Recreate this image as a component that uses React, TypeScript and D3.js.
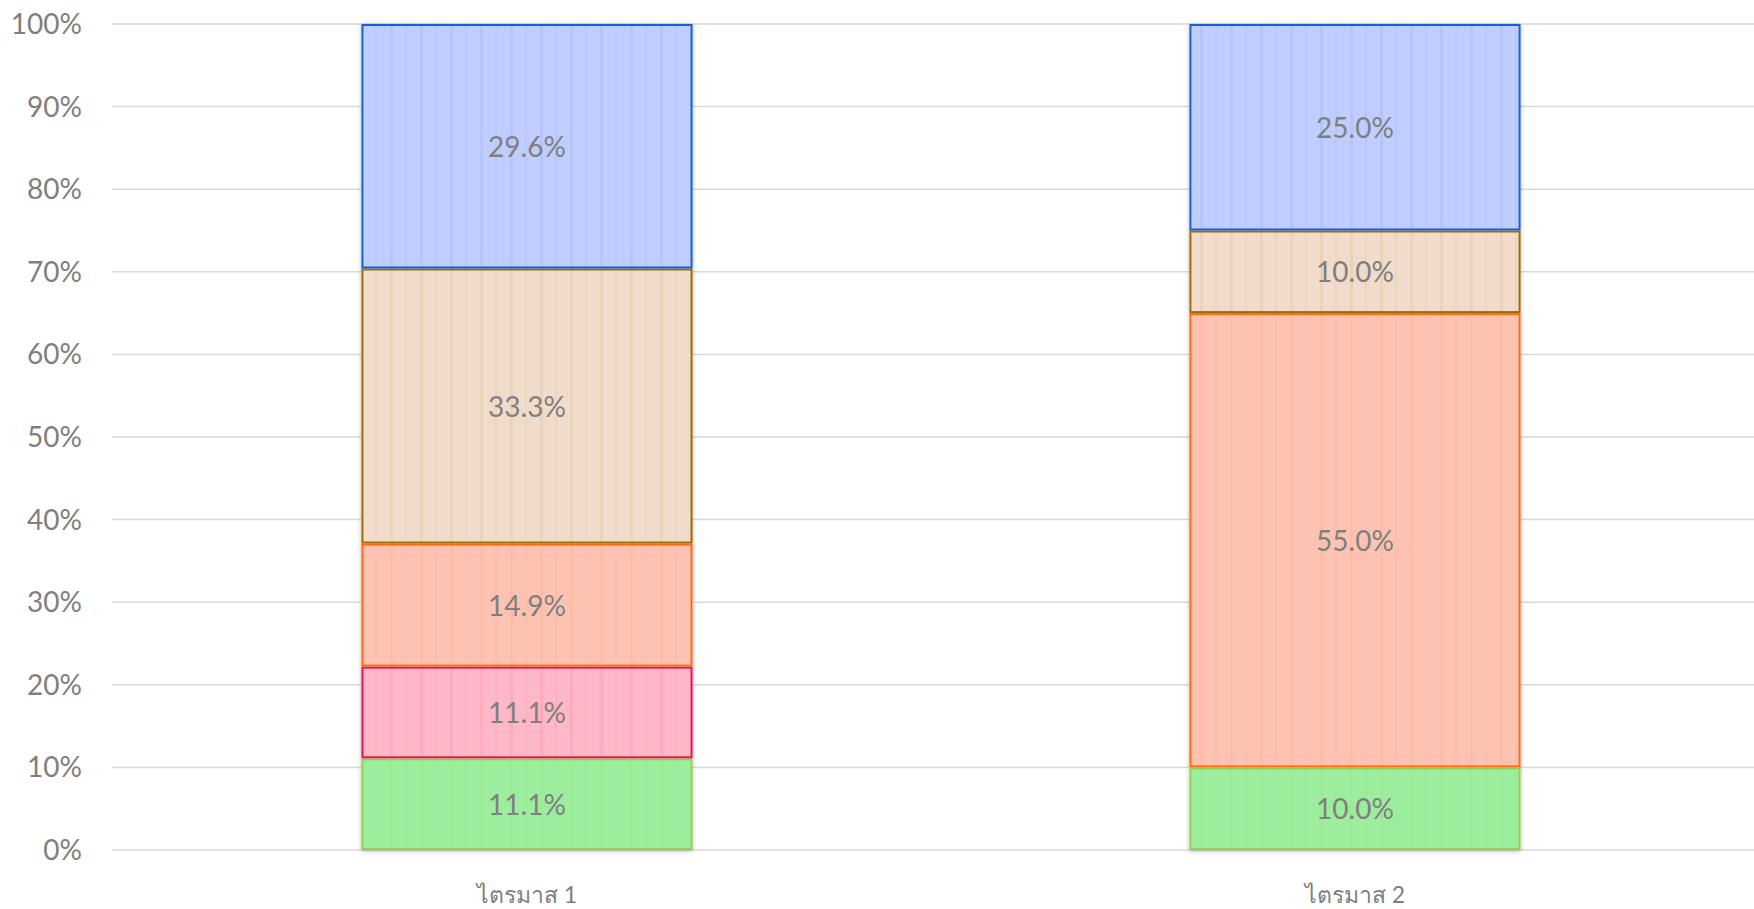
import React, { useEffect, useRef } from 'react';
import * as d3 from 'd3';

const categories = ['ไตรมาส 1', 'ไตรมาส 2'];
const seriesNames = ['green', 'pink', 'salmon', 'tan', 'blue'];
// percentages per series, bottom to top
const greenValues = [11.1, 10.0];
const pinkValues = [11.1, 0];
const salmonValues = [14.9, 55.0];
const tanValues = [33.3, 10.0];
const blueValues = [29.6, 25.0];
const yTicks = [0, 10, 20, 30, 40, 50, 60, 70, 80, 90, 100];

const fills: Record<string, string> = {
    green: '#9ded9f',
    pink: '#ffb8c6',
    salmon: '#fdc3b2',
    tan: '#f1dccb',
    blue: '#c0cdff'
};
const strokes: Record<string, string> = {
    green: '#92d050',
    pink: '#e8105a',
    salmon: '#ff6a10',
    tan: '#9c6a00',
    blue: '#1460d6'
};

const App: React.FC = () => {
    const svgRef = useRef<SVGSVGElement | null>(null);

    useEffect(() => {
        const width = 1754;
        const height = 909;
        const font = "Lato, 'Noto Sans', sans-serif";

        const rows = categories.map((c, i) => ({
            category: c,
            green: greenValues[i],
            pink: pinkValues[i],
            salmon: salmonValues[i],
            tan: tanValues[i],
            blue: blueValues[i]
        }));

        const stacked = d3.stack<any>().keys(seriesNames)(rows);

        const x = d3.scaleBand<string>()
            .domain(categories)
            .range([113, 1769])
            .paddingInner(0.6)
            .paddingOuter(0.3);

        const y = d3.scaleLinear().domain([0, 100]).range([850, 24]);

        const svg = d3.select(svgRef.current)
            .attr('width', width)
            .attr('height', height);
        svg.selectAll('*').remove();

        const defs = svg.append('defs');
        const shadow = defs.append('filter')
            .attr('id', 'shadow')
            .attr('x', '-10%').attr('y', '-10%')
            .attr('width', '120%').attr('height', '120%');
        shadow.append('feDropShadow')
            .attr('dx', 0).attr('dy', 1)
            .attr('stdDeviation', 2)
            .attr('flood-color', '#000')
            .attr('flood-opacity', 0.3);

        seriesNames.forEach(name => {
            const p = defs.append('pattern')
                .attr('id', `stripe-${name}`)
                .attr('patternUnits', 'userSpaceOnUse')
                .attr('width', 30)
                .attr('height', 10);
            p.append('rect').attr('width', 30).attr('height', 10).attr('fill', fills[name]);
            p.append('rect').attr('x', 0).attr('width', 3).attr('height', 10)
                .attr('fill', strokes[name]).attr('opacity', 0.08);
            p.append('rect').attr('x', 15).attr('width', 2).attr('height', 10)
                .attr('fill', strokes[name]).attr('opacity', 0.05);
        });

        // gridlines
        svg.append('g')
            .selectAll('line')
            .data(yTicks)
            .enter()
            .append('line')
            .attr('x1', 112)
            .attr('x2', width)
            .attr('y1', d => y(d))
            .attr('y2', d => y(d))
            .attr('stroke', '#d9d9d9')
            .attr('stroke-width', 1.5);

        // y tick labels
        svg.append('g')
            .selectAll('text')
            .data(yTicks)
            .enter()
            .append('text')
            .attr('x', 82)
            .attr('y', d => y(d))
            .attr('dy', '0.36em')
            .attr('text-anchor', 'end')
            .attr('fill', '#7f7f7f')
            .style('font-family', font)
            .style('font-size', '28px')
            .text(d => `${d}%`);

        // bar shadows
        svg.append('g')
            .selectAll('rect')
            .data(categories)
            .enter()
            .append('rect')
            .attr('x', d => x(d)!)
            .attr('y', y(100))
            .attr('width', x.bandwidth())
            .attr('height', y(0) - y(100))
            .attr('fill', '#fff')
            .attr('filter', 'url(#shadow)');

        const layers = svg.append('g')
            .selectAll('g')
            .data(stacked)
            .enter()
            .append('g');

        layers.selectAll('rect')
            .data(s => s.map(d => ({ d, key: s.key })))
            .enter()
            .filter(o => o.d[1] - o.d[0] > 0)
            .append('rect')
            .attr('x', o => x(o.d.data.category)! + 1)
            .attr('y', o => y(o.d[1]) + 1)
            .attr('width', x.bandwidth() - 2)
            .attr('height', o => y(o.d[0]) - y(o.d[1]) - 2)
            .attr('fill', o => `url(#stripe-${o.key})`)
            .attr('stroke', o => strokes[o.key])
            .attr('stroke-width', 2);

        // value labels
        const labels: { cat: string; lo: number; hi: number }[] = [];
        stacked.forEach(s => s.forEach(d => {
            if (d[1] - d[0] > 0) labels.push({ cat: d.data.category, lo: d[0], hi: d[1] });
        }));

        svg.append('g')
            .selectAll('text')
            .data(labels)
            .enter()
            .append('text')
            .attr('x', d => x(d.cat)! + x.bandwidth() / 2)
            .attr('y', d => (y(d.lo) + y(d.hi)) / 2)
            .attr('dy', '0.38em')
            .attr('text-anchor', 'middle')
            .attr('fill', '#7f7f7f')
            .style('font-family', font)
            .style('font-size', '28px')
            .text(d => `${(d.hi - d.lo).toFixed(1)}%`);

        // category labels
        svg.append('g')
            .selectAll('text')
            .data(categories)
            .enter()
            .append('text')
            .attr('x', d => x(d)! + x.bandwidth() / 2)
            .attr('y', 903)
            .attr('text-anchor', 'middle')
            .attr('fill', '#7f7f7f')
            .style('font-family', font)
            .style('font-size', '23px')
            .text(d => d);
    }, []);

    return <svg ref={svgRef} style={{ position: 'absolute', left: 0, top: 0, background: '#fff' }}></svg>;
};

export default App;
